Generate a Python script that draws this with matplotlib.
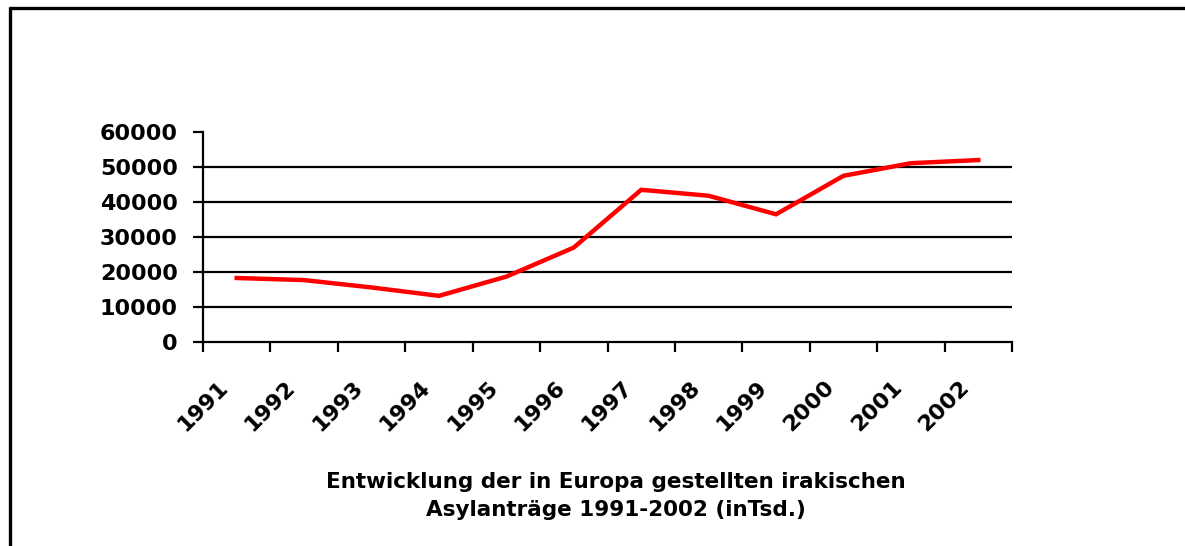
import matplotlib
matplotlib.use("Agg")
import matplotlib.pyplot as plt
from matplotlib.lines import Line2D
from matplotlib.transforms import ScaledTranslation
import numpy as np

years = ["1991", "1992", "1993", "1994", "1995", "1996",
         "1997", "1998", "1999", "2000", "2001", "2002"]
applications = [18200, 17600, 15500, 13100, 18600, 26900,
                43400, 41700, 36400, 47400, 51000, 51900]
y_ticks = [0, 10000, 20000, 30000, 40000, 50000, 60000]
title_lines = ["Entwicklung der in Europa gestellten irakischen",
               "Asylanträge 1991-2002 (inTsd.)"]

W, H = 1185, 546
fig = plt.figure(figsize=(W / 100, H / 100), dpi=100)
fig.patch.set_facecolor("white")

ax = fig.add_axes([203 / W, 1 - 341.7 / H, (1012 - 203) / W, (341.7 - 131.7) / H])
x = np.arange(len(years))
ax.plot(x, applications, color="#ff0000", lw=3.2, solid_joinstyle="miter", zorder=3)

ax.set_xlim(-0.5, len(years) - 0.5)
ax.set_ylim(0, 60000)
ax.set_yticks(y_ticks)
ax.set_yticklabels([str(v) for v in y_ticks])
for v in y_ticks[1:-1]:
    ax.axhline(v, color="black", lw=1.6, zorder=1)

ax.set_xticks(x)
ax.set_xticklabels(years, rotation=45, ha="right", va="center", rotation_mode="anchor")
ax.set_xticks(np.arange(-0.5, len(years), 1.0), minor=True)
ax.tick_params(axis="x", which="major", length=0, pad=26)
ax.tick_params(axis="x", which="minor", length=7.2, width=1.6, direction="out", color="black")
ax.tick_params(axis="y", length=7.2, width=1.6, direction="out", pad=11)

for lab in ax.get_xticklabels() + ax.get_yticklabels():
    lab.set_fontfamily("DejaVu Sans")
    lab.set_fontweight("bold")
    lab.set_fontsize(16)

offset = ScaledTranslation(-12 / 100, -6 / 100, fig.dpi_scale_trans)
for lab in ax.get_xticklabels():
    lab.set_transform(lab.get_transform() + offset)

for s in ["top", "right"]:
    ax.spines[s].set_visible(False)
for s in ["left", "bottom"]:
    ax.spines[s].set_linewidth(1.6)
    ax.spines[s].set_color("black")

for line, ypix in zip(title_lines, [488, 516]):
    fig.text(616 / W, 1 - ypix / H, line, ha="center", va="baseline",
             fontsize=15.5, fontweight="bold", family="DejaVu Sans")

# figure border (top and left)
fig.add_artist(Line2D([9 / W, 1.0], [1 - 7.5 / H, 1 - 7.5 / H], color="black", lw=2.4,
                      transform=fig.transFigure, solid_capstyle="butt"))
fig.add_artist(Line2D([9.5 / W, 9.5 / W], [0, 1 - 6.5 / H], color="black", lw=2.4,
                      transform=fig.transFigure, solid_capstyle="butt"))

fig.savefig("out.png", dpi=100, facecolor="white")
